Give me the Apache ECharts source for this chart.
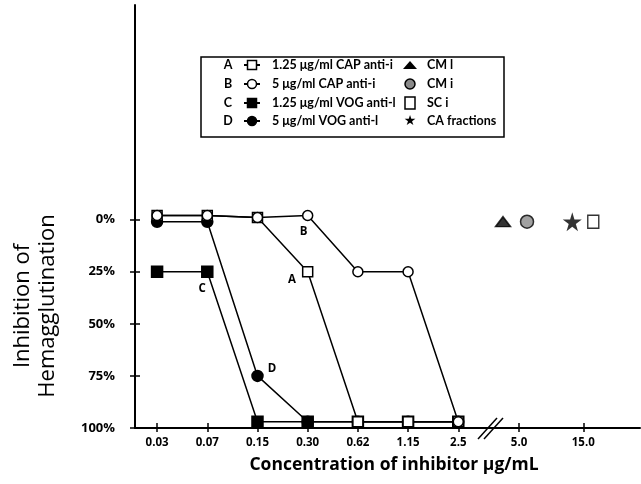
<!DOCTYPE html>
<html><head><meta charset="utf-8">
<script src="https://cdn.jsdelivr.net/npm/echarts@6/dist/echarts.min.js"></script>
<style>html,body{margin:0;padding:0;background:#fff}#c{width:641px;height:484px}</style>
</head><body><div id="c"></div>
<script>
// ---- data ----
const categories = ['0.03','0.07','0.15','0.30','0.62','1.15','2.5'];
const breakCategories = ['5.0','15.0'];
const seriesA = [-2,-2,-1,25,97,97,97];   // 1.25 µg/ml CAP anti-i
const seriesB = [-2,-2,-1,-2,25,25,97];   // 5 µg/ml CAP anti-i
const seriesC = [25,25,97,97,97,97,97];   // 1.25 µg/ml VOG anti-l
const seriesD = [1,1,75,97,97,97,97];     // 5 µg/ml VOG anti-l
const controlNames = ['CM l','CM i','CA fractions','SC i'];
const controlCategories = ['5.0','5.0','15.0','15.0'];
const controlValues = [1,1,1,1];
const yTickValues = [0,25,50,75,100];
const yTickLabels = ['0%','25%','50%','75%','100%'];
const seriesLetters = ['A','B','C','D'];
const seriesNames = ['1.25 \u03bcg/ml CAP anti-i','5 \u03bcg/ml CAP anti-i','1.25 \u03bcg/ml VOG anti-l','5 \u03bcg/ml VOG anti-l'];
const letterPointIndex = [3,3,1,2];

// ---- broken axis scale: categories evenly spaced, then break ----
const breakPos = {'5.0':7.21,'15.0':8.49};
function xPos(cat){ const i = categories.indexOf(cat); return i >= 0 ? i : breakPos[cat]; }
const allTickCats = categories.concat(breakCategories);
const allTickPos = allTickCats.map(xPos);

const FONT = 'Open Sans';
const LFONT = 'Lato';
const STAR = 'path://M50,0 L61,35 L98,35 L68,57 L79,91 L50,70 L21,91 L32,57 L2,35 L39,35 Z';

function mkData(vals, letterIdx, letter, labelCfg){
  return vals.map((v,i)=>{
    const d = {value:[xPos(categories[i]), v]};
    if(i===letterIdx){ d.label = Object.assign({show:true, formatter:letter, color:'#000', fontFamily:FONT, fontWeight:'bold', fontSize:11.5}, labelCfg); }
    return d;
  });
}
const labelCfgs = [
  {position:'left', offset:[-1,8]},
  {position:'bottom', offset:[-4,0]},
  {position:'bottom', offset:[-5,0]},
  {position:'right', offset:[-1,-7]}
];
const styles = [
  {symbol:'rect', size:10, fill:'#fff'},
  {symbol:'circle', size:10, fill:'#fff'},
  {symbol:'rect', size:11, fill:'#000'},
  {symbol:'circle', size:11, fill:'#000'}
];
const allVals = [seriesA, seriesB, seriesC, seriesD];
const lineSeries = allVals.map((vals,k)=>({
  type:'line', name:seriesNames[k],
  data: mkData(vals, letterPointIndex[k], seriesLetters[k], labelCfgs[k]),
  symbol: styles[k].symbol, symbolSize: styles[k].size,
  lineStyle:{color:'#000', width:1.5},
  itemStyle:{color: styles[k].fill, borderColor:'#000', borderWidth:1.5},
  z: k<2 ? 3 : 2,
  animation:false
}));
const ctrlSymbols = [
  {symbol:'triangle', size:[15,10], fill:'#000', off:[-16,0]},
  {symbol:'circle', size:13, fill:'#8a8a8a', off:[8,0]},
  {symbol:STAR, size:19, fill:'#000', off:[-11,0]},
  {symbol:'rect', size:[11,13], fill:'#fff', off:[10,0]}
];
const ctrlSeries = controlNames.map((n,k)=>({
  type:'scatter', name:n,
  data:[[xPos(controlCategories[k]), controlValues[k]]],
  symbol: ctrlSymbols[k].symbol, symbolSize: ctrlSymbols[k].size,
  symbolOffset: ctrlSymbols[k].off,
  itemStyle:{color:ctrlSymbols[k].fill, borderColor:'#000', borderWidth: k===2?0:1.5},
  animation:false
}));

const chart = echarts.init(document.getElementById('c'), null, {renderer:'canvas'});

// legend graphic
const LX = 201, LY = 57, LW = 303, LH = 80;
const rowY = [65, 84, 103, 121];
const leg = [{type:'rect', shape:{x:LX, y:LY, width:LW, height:LH}, style:{fill:'#fff', stroke:'#000', lineWidth:1.5}}];
function legIcon(k, x, y){
  const els = [{type:'line', shape:{x1:x-8,y1:y,x2:x+8,y2:y}, style:{stroke:'#000', lineWidth:2}}];
  if(styles[k].symbol==='rect') els.push({type:'rect', shape:{x:x-4.5,y:y-4.5,width:9,height:9}, style:{fill:styles[k].fill, stroke:'#000', lineWidth:1.5}});
  else els.push({type:'circle', shape:{cx:x,cy:y,r:4.5}, style:{fill:styles[k].fill, stroke:'#000', lineWidth:1.5}});
  return els;
}
const tStyle = (t,x,y,align,size)=>({type:'text', x, y, style:{text:t, fill:'#000', font:'bold '+(size||12.5)+'px "'+LFONT+'"', textAlign:align||'left', textVerticalAlign:'middle'}});
for(let k=0;k<4;k++){
  leg.push(tStyle(seriesLetters[k], 228, rowY[k], 'center'));
  leg.push(...legIcon(k, 252, rowY[k]));
  leg.push(tStyle(seriesNames[k], 272, rowY[k]));
}
// second column
leg.push({type:'polygon', shape:{points:[[403,rowY[0]+4],[417,rowY[0]+4],[410,rowY[0]-4]]}, style:{fill:'#000'}});
leg.push({type:'circle', shape:{cx:410, cy:rowY[1], r:5}, style:{fill:'#8a8a8a', stroke:'#000', lineWidth:1.5}});
leg.push({type:'rect', shape:{x:405, y:rowY[2]-6, width:10, height:12}, style:{fill:'#fff', stroke:'#000', lineWidth:1.5}});
leg.push({type:'text', x:410, y:rowY[3], style:{text:'\u2605', fill:'#000', font:'14px "DejaVu Sans"', textAlign:'center', textVerticalAlign:'middle'}});
const col2 = ['CM l','CM i','SC i','CA fractions'];
for(let k=0;k<4;k++) leg.push(tStyle(col2[k], 427, rowY[k]));

// axis break marks
const brk = [
  {type:'rect', shape:{x:480, y:424, width:20, height:8}, style:{fill:'#fff'}},
  {type:'line', shape:{x1:478,y1:439,x2:497,y2:418}, style:{stroke:'#000', lineWidth:1.5}},
  {type:'line', shape:{x1:484,y1:439,x2:503,y2:418}, style:{stroke:'#000', lineWidth:1.5}}
];

const titles = [
  {type:'text', x:35, y:306, rotation:Math.PI/2, style:{text:'Inhibition of\nHemagglutination', fill:'#000', font:'22px "'+FONT+'"', lineHeight:25, textAlign:'center', textVerticalAlign:'middle'}},
  {type:'text', x:394, y:465, style:{text:'Concentration of inhibitor \u03bcg/mL', fill:'#000', font:'bold 17.5px "'+FONT+'"', textAlign:'center', textVerticalAlign:'middle'}}
];

function xLabel(v){ const i = allTickPos.findIndex(p=>Math.abs(p-v)<1e-6); return i>=0 ? allTickCats[i] : ''; }
function yLabel(v){ const i = yTickValues.indexOf(v); return i>=0 ? yTickLabels[i] : ''; }

const xBase = {type:'value', min:-0.44, max:9.62, gridIndex:0, position:'bottom', splitLine:{show:false}};
const yBase = {type:'value', min:-103, max:100, inverse:true, gridIndex:0, position:'left', splitLine:{show:false}};

chart.setOption({
  backgroundColor:'#fff',
  animation:false,
  grid:{left:135, right:1, top:5, bottom:56},
  xAxis:[
    Object.assign({}, xBase, {
      axisLine:{show:true, onZero:false, lineStyle:{color:'#000', width:2}},
      axisTick:{show:true, length:4, lineStyle:{color:'#000', width:1.5}, customValues:allTickPos},
      axisLabel:{show:true, customValues:allTickPos, formatter:xLabel, color:'#000', fontFamily:FONT, fontWeight:'bold', fontSize:11.5, margin:9}
    }),
    Object.assign({}, xBase, {
      axisLine:{show:false, onZero:false},
      axisTick:{show:true, inside:true, length:5, lineStyle:{color:'#000', width:1.5}, customValues:allTickPos},
      axisLabel:{show:false}
    })
  ],
  yAxis:[
    Object.assign({}, yBase, {
      axisLine:{show:true, onZero:false, lineStyle:{color:'#000', width:2}},
      axisTick:{show:true, length:5, lineStyle:{color:'#000', width:1.5}, customValues:yTickValues},
      axisLabel:{show:true, customValues:yTickValues, formatter:yLabel, color:'#000', fontFamily:FONT, fontWeight:'bold', fontSize:13, margin:20}
    }),
    Object.assign({}, yBase, {
      axisLine:{show:false, onZero:false},
      axisTick:{show:true, inside:true, length:5, lineStyle:{color:'#000', width:1.5}, customValues:yTickValues},
      axisLabel:{show:false}
    })
  ],
  series: lineSeries.concat(ctrlSeries),
  graphic: leg.concat(brk, titles)
});
</script></body></html>
